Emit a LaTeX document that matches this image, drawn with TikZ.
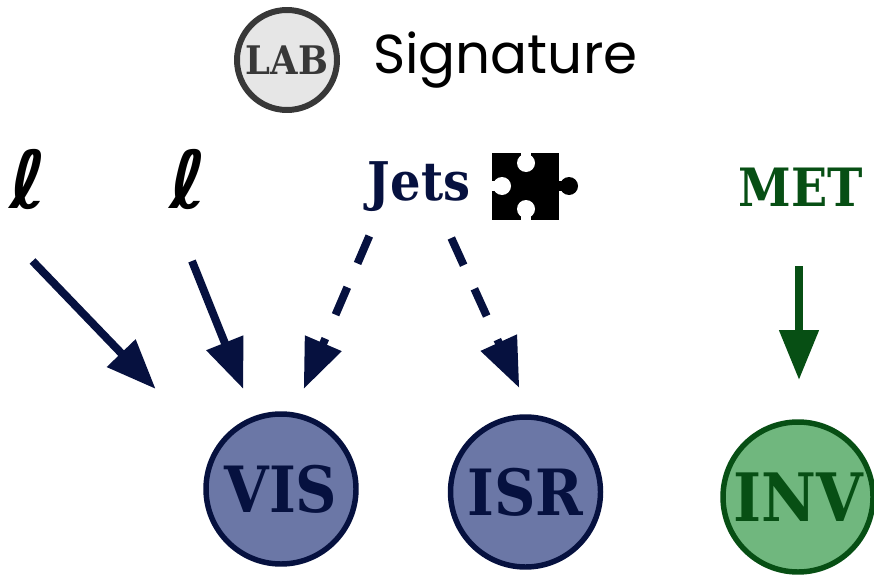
\documentclass[tikz,border=0pt]{standalone}
\usepackage{fontspec}
\usetikzlibrary{arrows.meta}
\setmainfont{Liberation Serif}
\newfontfamily\sgfont{Poppins}
\newfontfamily\symfont{DejaVu Sans}
\newfontfamily\slab{DejaVu Serif Condensed}
\definecolor{navy}{HTML}{06113F}
\definecolor{bluef}{HTML}{6B77A6}
\definecolor{dgreen}{HTML}{074F14}
\definecolor{greenf}{HTML}{70B77E}
\definecolor{labgray}{HTML}{383838}
\definecolor{labf}{HTML}{E6E6E6}
\newlength{\pxu}\setlength{\pxu}{0.0352778cm}
\tikzset{x=\pxu,y=-\pxu,
 blob/.style={circle,line width=5.5pt,minimum size=150\pxu,inner sep=0pt,font=\slab\bfseries\fontsize{64pt}{64pt}\selectfont},
 lep/.style={inner sep=0pt,font=\symfont\bfseries\fontsize{80pt}{80pt}\selectfont,text=black},
 solidarrow/.style={draw=navy,line width=8pt,-{Triangle[length=50pt,width=38pt]}},
 dasharrow/.style={solidarrow,dash pattern=on 30pt off 26pt}}
\begin{document}
\begin{tikzpicture}
\useasboundingbox (0,0) rectangle (874,576);
\node[circle,draw=labgray,fill=labf,line width=6pt,minimum size=100\pxu,inner sep=0pt,text=labgray,font=\slab\bfseries\fontsize{39.5pt}{39.5pt}\selectfont] (lab) at (287,60) {LAB};
\node[anchor=west,inner sep=0pt,font=\sgfont\fontsize{55pt}{55pt}\selectfont] (sig) at (373,60) {Signature};
\node[lep] (l1) at (28,179) {ℓ};
\node[lep] (l2) at (188,179) {ℓ};
\node[inner sep=0pt,text=navy,font=\slab\bfseries\fontsize{53.5pt}{53.5pt}\selectfont] (jets) at (419,187) {Jets};
\node[inner sep=0pt,text=dgreen,font=\slab\bfseries\fontsize{53pt}{53pt}\selectfont] (met) at (801,187) {MET};
\node[blob,draw=navy,fill=bluef,text=navy] (vis) at (281,489) {VIS};
\node[blob,draw=navy,fill=bluef,text=navy] (isr) at (525.5,492) {ISR};
\node[blob,draw=dgreen,fill=greenf,text=dgreen,font=\slab\bfseries\fontsize{67pt}{67pt}\selectfont] (inv) at (798,497) {INV};
% puzzle piece
\fill (492,153) rectangle (559,220);
\fill (569,186) circle[radius=9];
\fill (555,181) rectangle (565,191);
\fill[white] (526,163) circle[radius=9] (502,186) circle[radius=9] (526,209) circle[radius=9];
\fill[white] (521,150) rectangle (531,160);
\fill[white] (521,212) rectangle (531,222);
\fill[white] (489,181) rectangle (499,191);
\coordinate (a1s) at (32.5,261); \coordinate (a1e) at (155.7,389);
\coordinate (a2s) at (192,261); \coordinate (a2e) at (243.3,389);
\coordinate (a3s) at (369.3,236); \coordinate (a3e) at (303.7,389);
\coordinate (a4s) at (451.3,238); \coordinate (a4e) at (519.3,388);
\coordinate (a5s) at (799,266); \coordinate (a5e) at (799,380);
\draw[solidarrow] (a1s) -- (a1e);
\draw[solidarrow] (a2s) -- (a2e);
\draw[dasharrow] (a3s) -- (a3e);
\draw[dasharrow] (a4s) -- (a4e);
\draw[solidarrow,draw=dgreen] (a5s) -- (a5e);
\end{tikzpicture}
\end{document}
